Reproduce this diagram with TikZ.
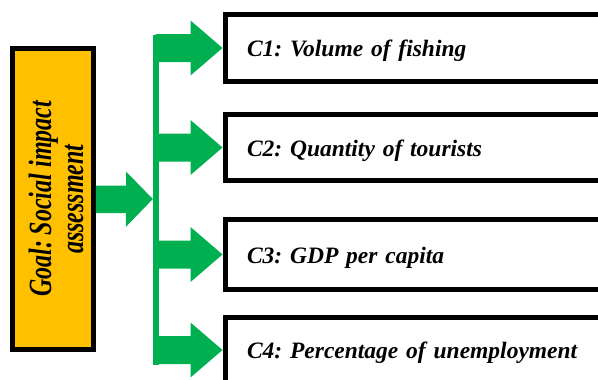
\documentclass[tikz,border=0pt]{standalone}
\usepackage{fontspec}
\setmainfont{Liberation Serif}
\usepackage{graphicx}
\frenchspacing
\definecolor{arrowgreen}{HTML}{00B050}
\definecolor{goalorange}{HTML}{FFC000}
\tikzset{
  critbox/.style={draw=black, line width=5pt, fill=white, anchor=west,
    text width=356pt, inner xsep=22pt, inner ysep=0pt, align=left,
    text height=17pt, text depth=0pt,
    font=\fontsize{23.5}{28}\selectfont\bfseries\itshape},
  goalbox/.style={draw=black, line width=5pt, fill=goalorange,
    minimum width=81pt, minimum height=301pt, inner sep=0pt,
    font=\fontsize{24}{23.7}\selectfont\bfseries\itshape},
  busbar/.style={fill=arrowgreen, minimum width=6pt, minimum height=330pt, inner sep=0pt},
  blockarrow/.style={fill=arrowgreen}
}
\begin{document}
\begin{tikzpicture}[x=1pt,y=-1pt]
\path[use as bounding box, clip] (0,0) rectangle (598,380);
% goal
\node[goalbox] (goal) at (53,199) {\rotatebox{90}{\scalebox{1}[1.35]{\begin{tabular}{@{}c@{}}\rule{0pt}{28pt}Goal: Social impact\\assessment\end{tabular}}}};
% bus bar
\node[busbar] (bus) at (156,200) {};
% criteria boxes
\node[critbox, minimum height=67pt] (c1) at (222.5,48) {C1: Volume of fishing};
\node[critbox, minimum height=66pt] (c2) at (222.5,147.5) {C2: Quantity of tourists};
\node[critbox, minimum height=70pt] (c3) at (222.5,254.5) {C3: GDP per capita};
\node[critbox, minimum height=65pt] (c4) at (222.5,350) {C4: Percentage of unemployment};
% main arrow goal -> bus
\fill[blockarrow] (goal.east) ++(0,-13.5) -- ++(30,0) -- ++(0,-14) -- (bus.west |- goal.east)
  -- ++(-27,28) -- ++(0,-14) -- ++(-30,0) -- cycle;
% branch arrows bus -> criteria
\foreach \c in {c1,c2,c3,c4}{
  \fill[blockarrow] (\c.west) -- ++(-32,-27.5) -- ++(0,13.5) -- ++(-35,0)
    -- ++(0,28) -- ++(35,0) -- ++(0,13.5) -- cycle;
}
\end{tikzpicture}
\end{document}
